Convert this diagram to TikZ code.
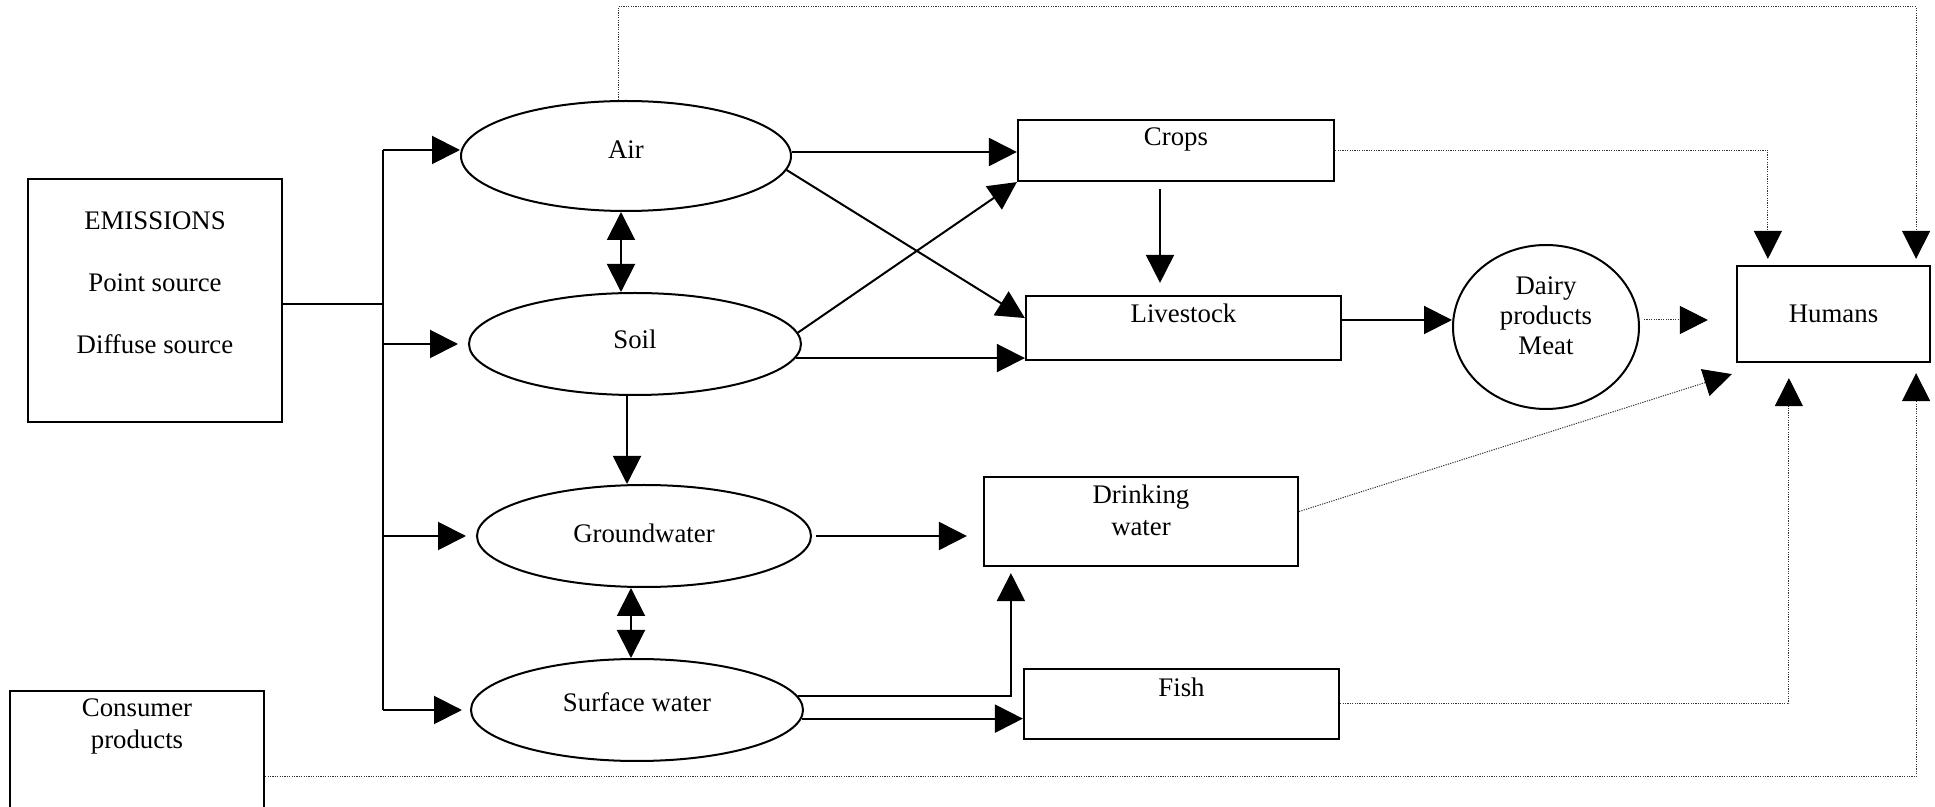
\documentclass[tikz,border=0pt]{standalone}
\usepackage{fontspec}
\setmainfont{Liberation Serif}
\usetikzlibrary{arrows.meta,calc,shapes.geometric}
\begin{document}
\begin{tikzpicture}[x=0.5pt,y=-0.5pt,
  every node/.style={font=\fontsize{13.4}{16}\selectfont},
  box/.style={draw, line width=1.1pt, rectangle, inner sep=0pt},
  oval/.style={draw, line width=1pt, ellipse, inner sep=0pt},
  arr/.style={line width=1pt, -{Triangle[length=14pt,width=14pt]}},
  darr/.style={line width=1pt, {Triangle[length=14pt,width=14pt]}-{Triangle[length=14pt,width=14pt]}},
  dots/.style={line width=0.5pt, black!80, dash pattern=on 0.6pt off 0.6pt},
  darrow/.style={dots, -{Triangle[length=14pt,width=14pt,color=black]}}
]
\useasboundingbox (0,0) rectangle (1935,807);
\clip (0,0) rectangle (1935,807);

% nodes
\node[box, minimum width=127pt, minimum height=121.5pt] (emis) at (155,300.5) {};
\node[align=center] (emist) at (155,283) {EMISSIONS\\[15pt]Point source\\[15pt]Diffuse source};

\node[oval, minimum width=165pt, minimum height=55pt, text depth=6pt] (air) at (626,156) {Air};
\node[oval, minimum width=166pt, minimum height=51pt, text depth=5pt] (soil) at (635,344) {Soil};
\node[oval, minimum width=167pt, minimum height=51pt, text depth=2.5pt] (gw) at (644,536) {Groundwater};
\node[oval, minimum width=166pt, minimum height=51pt, text depth=8pt] (sw) at (637,710) {Surface water};

\node[box, minimum width=158pt, minimum height=30.5pt] (crops) at (1176,150.5) {};
\node (cropst) at ([yshift=-10.5pt]crops.north) {Crops};
\node[box, minimum width=157.5pt, minimum height=32pt] (live) at (1183.5,328) {};
\node (livet) at ([yshift=-9pt]live.north) {Livestock};
\node[box, minimum width=157pt, minimum height=44.5pt] (drink) at (1141,521.5) {};
\node[align=center] (drinkt) at ([yshift=-17pt]drink.north) {Drinking\\water};
\node[box, minimum width=157.5pt, minimum height=35pt] (fish) at (1181.5,704) {};
\node (fisht) at ([yshift=-9.5pt]fish.north) {Fish};

\node[oval, minimum width=93pt, minimum height=82pt] (dairy) at (1546,327) {};
\node[align=center, font=\fontsize{13.4}{15}\selectfont] (dairyt) at (1546,316) {Dairy\\products\\Meat};
\node[box, minimum width=96.5pt, minimum height=48pt] (humans) at (1833.5,314) {Humans};

\node[box, minimum width=127pt, minimum height=74.5pt] (cons) at (137,765.5) {};
\node[align=center] (const) at ([yshift=-18.5pt]cons.north) {Consumer\\products};

% emission bus
\coordinate (bt) at (383,150);
\draw[line width=1pt] ([yshift=-2pt]emis.east) -- ([yshift=-2pt]emis.east -| bt);
\draw[line width=1pt] (bt) -- (bt |- sw.west);
\draw[arr] (bt) -- (bt -| air.west);
\draw[arr, shorten >=5pt] (bt |- soil.west) -- (soil.west);
\draw[arr, shorten >=5pt] (bt |- gw.west) -- (gw.west);
\draw[arr, shorten >=4pt] (bt |- sw.west) -- (sw.west);

% compartments
\draw[darr] ([xshift=-2.5pt]air.south) -- ([xshift=-2.5pt]air.south |- soil.north);
\draw[arr] ([xshift=-4pt]soil.south) -- ([xshift=-4pt]soil.south |- gw.north);
\draw[darr] ([xshift=-6.5pt]gw.south) -- ([xshift=-6.5pt]gw.south |- sw.north);

\draw[arr] ([yshift=2pt]air.east) -- ([yshift=2pt]air.east -| crops.west);
\draw[arr] (air.-5) -- ($(live.north west)!0.35!(live.south west)$);
\draw[arr] (soil.4) -- (crops.south west);
\draw[arr] (soil.-5) -- (soil.-5 -| live.west);
\draw[arr, shorten <=3.5pt, shorten >=6pt] ([xshift=-8pt]crops.south) -- ([xshift=-8pt]crops.south |- live.north);
\draw[arr, shorten <=2pt, shorten >=8pt] (gw.east) -- (gw.east -| drink.west);
\coordinate (swd) at ($(drink.south west)+(28,0)$);
\draw[arr, shorten >=3pt] (sw.5) -- (sw.5 -| swd) -- (swd);
\draw[arr] (sw.-3) -- (sw.-3 -| fish.west);
\draw[arr] ([yshift=4pt]live.east) -- ([yshift=4pt]live.east -| dairy.west);

% exposure to humans (dotted)
\draw[darrow, shorten <=2pt, shorten >=14pt] ([yshift=3.5pt]dairy.east) -- ([yshift=3.5pt]dairy.east -| humans.west);
\draw[darrow, shorten >=3pt] (crops.east) -| ([xshift=16pt]humans.north west);
\coordinate (topy) at (0,7);
\draw[darrow, shorten >=3pt] ([xshift=-4pt]air.north) -- ([xshift=-4pt]air.north |- topy) -| ([xshift=-7.5pt]humans.north east);
\draw[darrow] ([yshift=5pt]drink.east) -- ([shift={(-2pt,-5.5pt)}]humans.south west);
\draw[darrow, shorten >=7.5pt] (fish.east) -| ([xshift=26.5pt]humans.south west);
\draw[darrow, shorten >=5pt] ([yshift=-43.5pt]cons.north east) -| ([xshift=-7.5pt]humans.south east);
\end{tikzpicture}
\end{document}
